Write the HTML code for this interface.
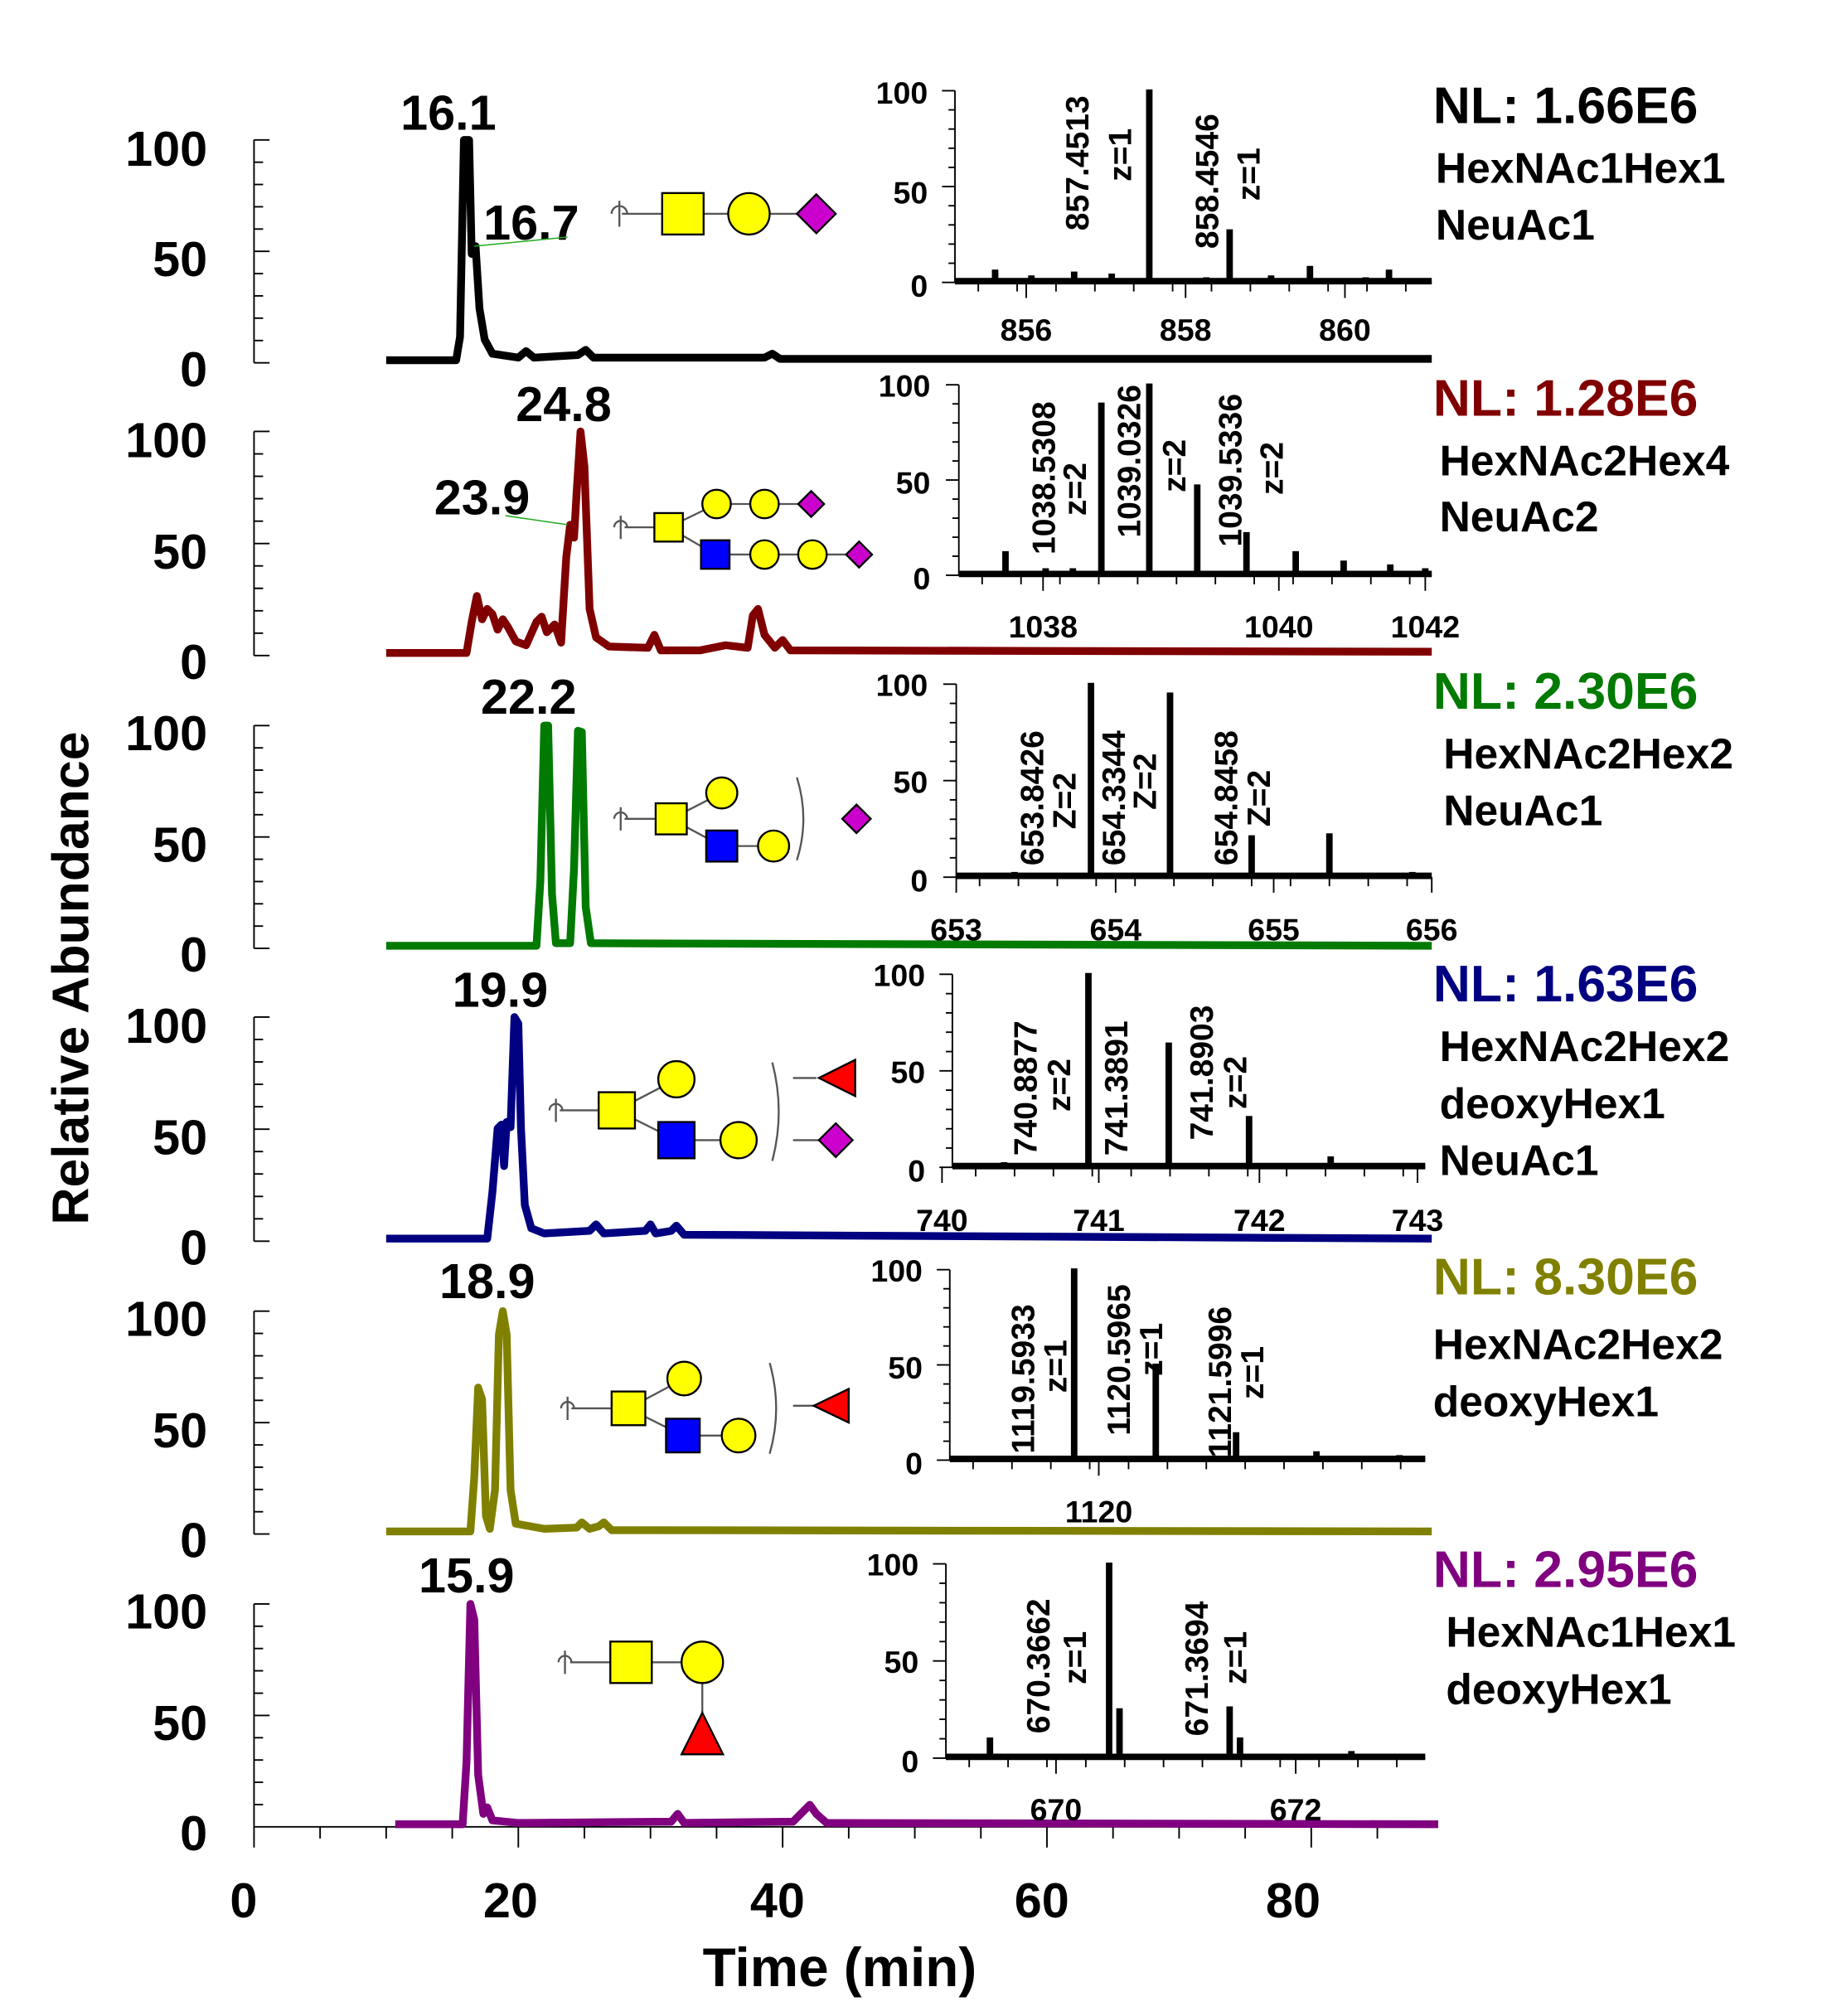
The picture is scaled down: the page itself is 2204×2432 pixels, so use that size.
<!DOCTYPE html>
<html><head><meta charset="utf-8"><style>
html,body{margin:0;padding:0;background:#fff}
svg{display:block}
text{font-family:"Liberation Sans",Arial,sans-serif;font-weight:bold}
</style></head><body>
<svg id="s" width="2204" height="2432" viewBox="0 0 1410 1556" xmlns="http://www.w3.org/2000/svg">
<rect width="1410" height="1556" fill="#fff"/>
<g id="ticks" stroke="#000" stroke-width="1.2" fill="none"></g>

<g font-size="38" text-anchor="end">
<text x="160" y="128">100</text><text x="160" y="213">50</text><text x="160" y="298">0</text>
<text x="160" y="353">100</text><text x="160" y="439">50</text><text x="160" y="524">0</text>
<text x="160" y="579">100</text><text x="160" y="665">50</text><text x="160" y="750">0</text>
<text x="160" y="805">100</text><text x="160" y="891">50</text><text x="160" y="976">0</text>
<text x="160" y="1031">100</text><text x="160" y="1117">50</text><text x="160" y="1202">0</text>
<text x="160" y="1257">100</text><text x="160" y="1343">50</text><text x="160" y="1428">0</text>
</g>
<g font-size="38" text-anchor="middle">
<text x="188" y="1480">0</text><text x="394" y="1480">20</text><text x="600" y="1480">40</text><text x="804" y="1480">60</text><text x="998" y="1480">80</text>
</g>
<text x="648" y="1533" font-size="42" text-anchor="middle">Time (min)</text>
<text transform="translate(68,755) rotate(-90)" font-size="40" text-anchor="middle">Relative Abundance</text>

<g fill="none" stroke-width="6" stroke-linejoin="round">
<path stroke="#000" d="M298,278 L352,278 L355,260 L358,108 L362,108 L364,196 L367,190 L370,238 L374,262 L380,273 L400,276 L406,271 L412,276 L446,274 L452,270 L458,276 L590,276 L596,273 L602,277 L1105,277"/>
<path stroke="#800000" d="M298,504 L360,504 L364,480 L368,460 L372,478 L376,470 L380,474 L384,486 L388,478 L392,484 L398,495 L406,498 L414,480 L418,476 L422,488 L428,482 L433,496 L437,430 L440,405 L443,415 L445,380 L448,333 L451,360 L455,470 L460,492 L470,499 L500,500 L505,490 L510,502 L540,502 L560,498 L577,500 L581,475 L585,470 L590,490 L598,500 L604,494 L610,502 L1105,503"/>
<path stroke="#007a00" d="M298,730 L414,730 L417,680 L420,560 L423,560 L426,690 L429,728 L440,728 L443,670 L446,564 L449,565 L452,700 L456,728 L1105,730"/>
<path stroke="#000080" d="M298,956 L376,956 L380,920 L384,871 L387,868 L389,900 L391,866 L394,870 L397,785 L400,790 L402,870 L405,930 L410,948 L420,952 L455,950 L460,945 L466,952 L498,950 L502,945 L506,952 L518,950 L522,946 L528,953 L1105,956"/>
<path stroke="#808000" d="M298,1182 L363,1182 L366,1140 L369,1071 L372,1080 L375,1170 L378,1180 L382,1150 L385,1030 L388,1012 L391,1030 L394,1150 L398,1176 L420,1180 L445,1179 L449,1175 L455,1180 L462,1178 L466,1175 L472,1181 L1105,1182"/>
<path stroke="#800080" d="M305,1408 L357,1408 L360,1360 L363,1238 L366,1250 L369,1370 L373,1400 L376,1395 L380,1405 L400,1407 L518,1406 L523,1400 L528,1407 L612,1406 L620,1398 L625,1393 L630,1400 L638,1407 L1110,1408"/>
</g>

<g font-size="38" text-anchor="middle">
<text x="346" y="100">16.1</text><text x="410" y="185">16.7</text>
<text x="435" y="325">24.8</text><text x="372" y="397">23.9</text>
<text x="408" y="551">22.2</text><text x="386" y="777">19.9</text>
<text x="376" y="1002">18.9</text><text x="360" y="1229">15.9</text>
</g>
<path d="M366,190 L438,183 M390,398 L438,405" stroke="#2a2" stroke-width="1" fill="none"/>

<g stroke="#000" stroke-width="1.5">
<path d="M480,165 L640,165" stroke="#555"/>
<path d="M478,155 v20 M472,165 a6,6 0 0 1 12,0" fill="none" stroke="#555"/>
<rect x="511" y="149" width="32" height="32" fill="#ff0"/>
<circle cx="578" cy="165" r="16" fill="#ff0"/>
<path d="M630,150 L645,165 L630,180 L615,165Z" fill="#c0c"/>
<path d="M482,407 L516,407 L553,389 L626,389 M516,407 L552,428 L663,428" stroke="#555" fill="none"/>
<path d="M479,398 v18 M474,407 a5,5 0 0 1 10,0" fill="none" stroke="#555"/>
<rect x="505" y="396" width="22" height="22" fill="#ff0"/>
<circle cx="553" cy="389" r="11" fill="#ff0"/><circle cx="590" cy="389" r="11" fill="#ff0"/>
<path d="M626,379 L636,389 L626,399 L616,389Z" fill="#c0c"/>
<rect x="541" y="417" width="22" height="22" fill="#00f"/>
<circle cx="590" cy="428" r="11" fill="#ff0"/><circle cx="627" cy="428" r="11" fill="#ff0"/>
<path d="M663,418 L673,428 L663,438 L653,428Z" fill="#c0c"/>
<path d="M482,632 L518,632 L557,612 M518,632 L557,653 L597,653 M650,632 L661,632" stroke="#555" fill="none"/>
<path d="M479,623 v18 M474,632 a5,5 0 0 1 10,0 M615,600 q10,32 0,64" fill="none" stroke="#555"/>
<rect x="506" y="620" width="24" height="24" fill="#ff0"/>
<circle cx="557" cy="612" r="12" fill="#ff0"/>
<rect x="545" y="641" width="24" height="24" fill="#00f"/>
<circle cx="597" cy="653" r="12" fill="#ff0"/>
<path d="M661,621 L672,632 L661,643 L650,632Z" fill="#c0c"/>
<path d="M432,857 L476,857 L522,833 M476,857 L522,880 L570,880 M612,832 L630,832 M612,880 L632,880" stroke="#555" fill="none"/>
<path d="M429,848 v18 M424,857 a5,5 0 0 1 10,0 M596,820 q10,38 0,76" fill="none" stroke="#555"/>
<rect x="462" y="843" width="28" height="28" fill="#ff0"/>
<circle cx="522" cy="833" r="14" fill="#ff0"/>
<rect x="508" y="866" width="28" height="28" fill="#00f"/>
<circle cx="570" cy="880" r="14" fill="#ff0"/>
<path d="M660,818 L660,846 L632,832Z" fill="#f00"/>
<path d="M645,867 L658,880 L645,893 L632,880Z" fill="#c0c"/>
<path d="M441,1087 L485,1087 L528,1064 M485,1087 L527,1108 L570,1108 M612,1085 L628,1085" stroke="#555" fill="none"/>
<path d="M438,1078 v18 M433,1087 a5,5 0 0 1 10,0 M594,1052 q10,35 0,70" fill="none" stroke="#555"/>
<rect x="472" y="1074" width="26" height="26" fill="#ff0"/>
<circle cx="528" cy="1064" r="13" fill="#ff0"/>
<rect x="514" y="1095" width="26" height="26" fill="#00f"/>
<circle cx="570" cy="1108" r="13" fill="#ff0"/>
<path d="M655,1072 L655,1098 L628,1085Z" fill="#f00"/>
<path d="M440,1283 L542,1283 L542,1330" stroke="#555" fill="none"/>
<path d="M436,1274 v18 M431,1283 a5,5 0 0 1 10,0" fill="none" stroke="#555"/>
<rect x="471" y="1267" width="32" height="32" fill="#ff0"/>
<circle cx="542" cy="1283" r="16" fill="#ff0"/>
<path d="M542,1322 L558,1354 L526,1354Z" fill="#f00"/>
</g>

<g id="spec" stroke="#000" stroke-width="5" fill="none" stroke-linejoin="round"></g>
<g font-size="24" text-anchor="end">
<text x="716" y="80">100</text><text x="716" y="157">50</text><text x="716" y="229">0</text>
<text x="718" y="306">100</text><text x="718" y="381">50</text><text x="718" y="455">0</text>
<text x="716" y="537">100</text><text x="716" y="612">50</text><text x="716" y="688">0</text>
<text x="714" y="761">100</text><text x="714" y="836">50</text><text x="714" y="912">0</text>
<text x="712" y="989">100</text><text x="712" y="1064">50</text><text x="712" y="1138">0</text>
<text x="709" y="1216">100</text><text x="709" y="1291">50</text><text x="709" y="1368">0</text>
</g>
<g font-size="24" text-anchor="middle">
<text x="792" y="263">856</text><text x="915" y="263">858</text><text x="1038" y="263">860</text>
<text x="805" y="492">1038</text><text x="987" y="492">1040</text><text x="1100" y="492">1042</text>
<text x="738" y="726">653</text><text x="861" y="726">654</text><text x="983" y="726">655</text><text x="1105" y="726">656</text>
<text x="727" y="950">740</text><text x="848" y="950">741</text><text x="972" y="950">742</text><text x="1094" y="950">743</text>
<text x="848" y="1175">1120</text>
<text x="815" y="1405">670</text><text x="1000" y="1405">672</text>
</g>
<g font-size="25">
<text transform="translate(840,178) rotate(-90)">857.4513</text>
<text transform="translate(873,140) rotate(-90)">z=1</text>
<text transform="translate(940,192) rotate(-90)">858.4546</text>
<text transform="translate(972,155) rotate(-90)">z=1</text>
<text transform="translate(814,428) rotate(-90)">1038.5308</text>
<text transform="translate(838,398) rotate(-90)">z=2</text>
<text transform="translate(880,415) rotate(-90)">1039.0326</text>
<text transform="translate(915,380) rotate(-90)">z=2</text>
<text transform="translate(958,422) rotate(-90)">1039.5336</text>
<text transform="translate(990,382) rotate(-90)">z=2</text>
<text transform="translate(805,668) rotate(-90)">653.8426</text>
<text transform="translate(830,640) rotate(-90)">Z=2</text>
<text transform="translate(868,668) rotate(-90)">654.3344</text>
<text transform="translate(892,625) rotate(-90)">Z=2</text>
<text transform="translate(955,668) rotate(-90)">654.8458</text>
<text transform="translate(980,638) rotate(-90)">Z=2</text>
<text transform="translate(800,892) rotate(-90)">740.8877</text>
<text transform="translate(826,858) rotate(-90)">z=2</text>
<text transform="translate(870,892) rotate(-90)">741.3891</text>
<text transform="translate(936,880) rotate(-90)">741.8903</text>
<text transform="translate(962,856) rotate(-90)">z=2</text>
<text transform="translate(798,1122) rotate(-90)">1119.5933</text>
<text transform="translate(823,1075) rotate(-90)">z=1</text>
<text transform="translate(872,1108) rotate(-90)">1120.5965</text>
<text transform="translate(897,1062) rotate(-90)">z=1</text>
<text transform="translate(950,1125) rotate(-90)">1121.5996</text>
<text transform="translate(975,1080) rotate(-90)">z=1</text>
<text transform="translate(810,1338) rotate(-90)">670.3662</text>
<text transform="translate(838,1300) rotate(-90)">z=1</text>
<text transform="translate(932,1340) rotate(-90)">671.3694</text>
<text transform="translate(962,1300) rotate(-90)">z=1</text>
</g>

<g font-size="40">
<text x="1106" y="95" fill="#000">NL: 1.66E6</text>
<text x="1106" y="321" fill="#800000">NL: 1.28E6</text>
<text x="1106" y="547" fill="#007a00">NL: 2.30E6</text>
<text x="1106" y="773" fill="#000080">NL: 1.63E6</text>
<text x="1106" y="999" fill="#808000">NL: 8.30E6</text>
<text x="1106" y="1225" fill="#800080">NL: 2.95E6</text>
</g>
<g font-size="33">
<text x="1108" y="141">HexNAc1Hex1</text><text x="1108" y="185">NeuAc1</text>
<text x="1111" y="367">HexNAc2Hex4</text><text x="1111" y="410">NeuAc2</text>
<text x="1114" y="593">HexNAc2Hex2</text><text x="1114" y="637">NeuAc1</text>
<text x="1111" y="819">HexNAc2Hex2</text><text x="1111" y="863">deoxyHex1</text><text x="1111" y="907">NeuAc1</text>
<text x="1106" y="1049">HexNAc2Hex2</text><text x="1106" y="1093">deoxyHex1</text>
<text x="1116" y="1271">HexNAc1Hex1</text><text x="1116" y="1315">deoxyHex1</text>
</g>
</svg>
<script>
(function(){
var NS="http://www.w3.org/2000/svg";
var d="";
var panels=[[108,280],[333,506],[560,732],[785,958],[1012,1184],[1238,1410]];
panels.forEach(function(p){
  var top=p[0],bot=p[1];
  d+="M196,"+top+" L196,"+bot+" ";
  for(var i=0;i<=10;i++){var y=bot-(bot-top)*i/10;var l=(i%5==0)?12:7;d+="M196,"+y.toFixed(1)+" L"+(196+l)+","+y.toFixed(1)+" ";}
});
d+="M196,1410 L1105,1410 ";
for(var t=0;t<=88;t+=5){var x=196+10.2*t;var l=(t%20==0)?16:9;d+="M"+x.toFixed(1)+",1410 L"+x.toFixed(1)+","+(1410+l)+" ";}
var ins=[[737,1105,70,218,[792,915,1038]],[740,1105,297,444,[805,987,1100]],[738,1105,528,677,[738,861,983,1105]],[735,1100,752,901,[727,848,972,1094]],[733,1100,980,1127,[848]],[730,1100,1207,1357,[815,1000]]];
ins.forEach(function(a){
  var x0=a[0],x1=a[1],t=a[2],b=a[3];
  d+="M"+x0+","+t+" L"+x0+","+b+" L"+x1+","+b+" ";
  for(var i=0;i<=10;i++){var y=b-(b-t)*i/10;var l=(i%5==0)?10:5;d+="M"+x0+","+y.toFixed(1)+" L"+(x0-l)+","+y.toFixed(1)+" ";}
  for(var x=x0+18;x<x1;x+=30){d+="M"+x+","+b+" L"+x+","+(b+7)+" ";}
  a[4].forEach(function(x){d+="M"+x+","+b+" L"+x+","+(b+12)+" ";});
});
var g=document.getElementById("ticks");var p=document.createElementNS(NS,"path");p.setAttribute("d",d);g.appendChild(p);
var spec=[[737,1105,218,70,[[768,6],[796,3],[829,5],[858,4],[887,100],[931,2],[949,27],[981,3],[1011,8],[1054,2],[1072,6]]],
[740,1105,444,297,[[776,12],[807,3],[828,3],[850,90],[887,100],[924,47],[962,22],[1000,12],[1037,7],[1073,5],[1100,3]]],
[738,1105,677,528,[[783,2],[842,100],[903,95],[966,21],[1026,22],[1090,2]]],
[735,1100,901,752,[[775,2],[840,100],[902,64],[964,26],[1027,5]]],
[733,1100,1127,980,[[829,100],[892,50],[954,14],[1016,4],[1080,2]]],
[730,1100,1357,1207,[[764,10],[856,100],[864,25],[949,26],[957,10],[1043,3]]]];
var sd="";
spec.forEach(function(s){
  var b=s[2]-1,t=s[3];
  sd+="M"+s[0]+","+b+" L"+s[1]+","+b+" ";
  s[4].forEach(function(pk){var y=b-(s[2]-t)*pk[1]/100;sd+="M"+pk[0]+","+b+" L"+pk[0]+","+y.toFixed(1)+" ";});
});
var sp=document.createElementNS(NS,"path");sp.setAttribute("d",sd);document.getElementById("spec").appendChild(sp);
})();
</script>
</body></html>
